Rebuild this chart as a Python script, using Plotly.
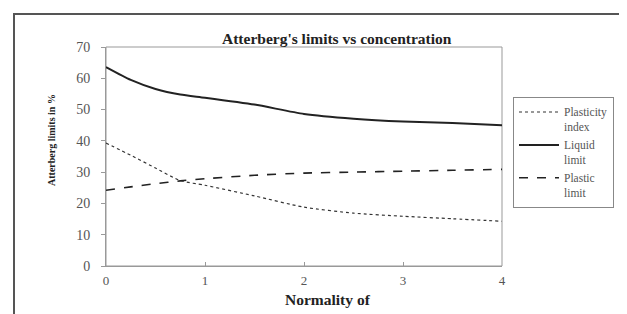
import plotly.graph_objects as go

normality = [0, 0.25, 0.5, 0.75, 1, 1.5, 2, 2.5, 3, 3.5, 4]
plasticity_index = [39.3, 35.4, 31.3, 27.3, 25.8, 22.4, 18.8, 16.9, 15.9, 15.1, 14.3]
liquid_limit = [63.6, 59.5, 56.6, 54.8, 53.8, 51.6, 48.6, 47.1, 46.2, 45.7, 45.0]
plastic_limit = [24.2, 25.3, 26.3, 27.2, 27.9, 29.0, 29.7, 30.0, 30.3, 30.6, 30.9]

series_names = ["Plasticity<br>index", "Liquid<br>limit", "Plastic<br>limit"]
x_ticks = [0, 1, 2, 3, 4]
y_ticks = [0, 10, 20, 30, 40, 50, 60, 70]

FONT = "Liberation Serif"

fig = go.Figure()
fig.add_trace(go.Scatter(x=normality, y=plasticity_index, name=series_names[0], mode="lines",
                         line=dict(color="#333333", width=1.2, dash="dot", shape="spline", smoothing=0.6)))
fig.add_trace(go.Scatter(x=normality, y=liquid_limit, name=series_names[1], mode="lines",
                         line=dict(color="#222222", width=2, shape="spline", smoothing=0.6)))
fig.add_trace(go.Scatter(x=normality, y=plastic_limit, name=series_names[2], mode="lines",
                         line=dict(color="#222222", width=1.6, dash="dash", shape="spline", smoothing=0.6)))

# page has an 8px body margin, so the figure is drawn offset by 8px
OFF = 8
W, H = 627 - OFF, 314 - OFF
L, R, T, B = 106 - OFF, 627 - 502, 47 - OFF, 314 - 266
pw, ph = W - L - R, H - T - B

def px_x(p):  # page pixel -> paper
    return (p - OFF - L) / pw

def px_y(p):
    return (H - B - (p - OFF)) / ph

fig.update_layout(
    width=W, height=H,
    margin=dict(l=L, r=R, t=T, b=B),
    paper_bgcolor="white", plot_bgcolor="white",
    font=dict(family=FONT, size=13, color="#444444"),
    showlegend=True,
    legend=dict(x=px_x(513), y=px_y(97), xanchor="left", yanchor="top",
                bordercolor="#888888", borderwidth=1, bgcolor="white",
                font=dict(family=FONT, size=11.5, color="#555555"),
                itemwidth=40, valign="top"),
    xaxis=dict(range=[0, 4], tickvals=x_ticks, ticktext=[str(v) for v in x_ticks],
               showgrid=False, zeroline=False, showline=True, linecolor="#999999", linewidth=1,
               ticks="inside", ticklen=4, tickcolor="#999999", mirror=False, ticklabelstandoff=2,
               tickfont=dict(family=FONT, size=13, color="#555555")),
    yaxis=dict(range=[0, 70], tickvals=y_ticks, ticktext=[str(v) for v in y_ticks],
               showgrid=False, zeroline=False, showline=True, linecolor="#999999", linewidth=1,
               ticks="outside", ticklen=4, tickcolor="#999999", ticklabelstandoff=8,
               tickfont=dict(family=FONT, size=14, color="#555555")),
)

# plot-area box (top and right edges)
fig.add_shape(type="rect", xref="paper", yref="paper", x0=0, y0=0, x1=1, y1=1,
              line=dict(color="#999999", width=1), layer="below")
# outer chart border
fig.add_shape(type="rect", xref="paper", yref="paper",
              x0=px_x(14), x1=px_x(625), y0=px_y(330), y1=px_y(14),
              line=dict(color="#555555", width=2))

fig.add_annotation(text="<b>Atterberg's limits vs concentration</b>", xref="paper", yref="paper",
                   x=px_x(337), y=px_y(38), showarrow=False, xanchor="center", yanchor="middle",
                   font=dict(family=FONT, size=15.5, color="#222222"))
fig.add_annotation(text="<b>Normality of</b>", xref="paper", yref="paper",
                   x=px_x(328), y=px_y(299), showarrow=False, xanchor="center", yanchor="middle",
                   font=dict(family=FONT, size=15.5, color="#222222"))
fig.add_annotation(text="<b>Atterberg limits in %</b>", xref="paper", yref="paper",
                   x=px_x(51), y=px_y(140), showarrow=False, textangle=-90,
                   xanchor="center", yanchor="middle",
                   font=dict(family=FONT, size=10, color="#222222"))

fig.write_html("out.html")
